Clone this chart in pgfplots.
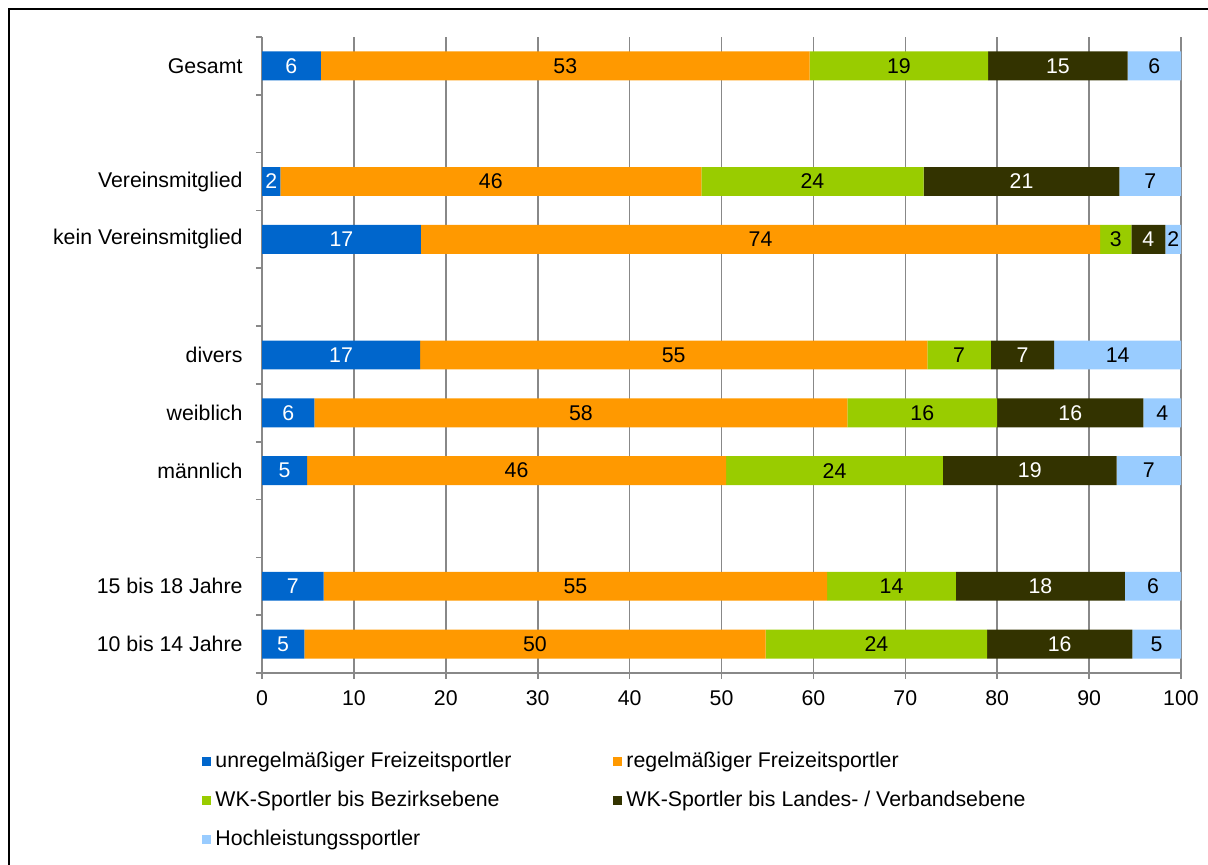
\documentclass[border=0pt]{standalone}
\usepackage{pgfplots}
\pgfplotsset{compat=1.18}
\usepackage{pgfplotstable}
\usepackage{fontspec}
\setmainfont{Liberation Sans}
\definecolor{cA}{HTML}{0066CC}
\definecolor{cB}{HTML}{FF9900}
\definecolor{cC}{HTML}{99CC00}
\definecolor{cD}{HTML}{333300}
\definecolor{cE}{HTML}{99CCFF}
\definecolor{gridgray}{HTML}{888888}
\pgfplotstableread{
pos a b c d e
10 6.4 53.2 19.4 15.2 5.8
8 2.0 45.8 24.2 21.3 6.7
7 17.3 73.9 3.4 3.7 1.7
5 17.2 55.2 6.9 6.9 13.8
4 5.7 58.0 16.3 15.9 4.1
3 4.9 45.6 23.6 18.9 7.0
1 6.7 54.8 14.0 18.4 6.1
0 4.6 50.2 24.1 15.8 5.3
}\datatable
\pgfplotsset{
  /pgf/number format/assume math mode=true,
  seg/.style n args={2}{fill=#1, draw=none,
    every node near coord/.append style={text=#2},
    legend image code/.code={\fill[fill=#1] (0pt,-2.25pt) rectangle (4.5pt,2.25pt);}},
}
\begin{document}
\fontsize{10.65pt}{12.8pt}\selectfont
\begin{tikzpicture}
\begin{axis}[
  at={(0,0)}, anchor=south west,
  scale only axis, width=459.5pt, height=318pt,
  xbar stacked, bar width=0.5,
  xmin=0, xmax=100, ymin=-0.5, ymax=10.5,
  axis x line*=bottom, axis y line*=left,
  axis line style={gridgray, line width=0.8pt, -},
  tick align=outside,
  tick style={gridgray, line width=0.8pt},
  major tick length=3pt,
  xtick={0,10,...,100},
  xmajorgrids, grid style={gridgray, line width=0.8pt},
  ytick={-0.5,0.5,...,10.5}, yticklabels={},
  extra y ticks={0,1,3,4,5,7,8,10},
  extra y tick labels={10 bis 14 Jahre,15 bis 18 Jahre,männlich,weiblich,divers,kein Vereinsmitglied,Vereinsmitglied,Gesamt},
  extra y tick style={major tick length=0pt, yticklabel style={xshift=-6pt}},
  xticklabel style={yshift=-2pt},
  point meta=explicit symbolic,
  nodes near coords={\pgfmathprintnumber[fixed,precision=0]{\pgfplotspointmeta}},
  every node near coord/.append style={anchor=center, font=\fontsize{10.65pt}{12.8pt}\selectfont},
  legend columns=2,
  legend cell align=left,
  legend style={at={(axis description cs:-0.0652,-0.1226)}, anchor=north west, draw=none, fill=none, inner sep=0pt,
    row sep=9pt,
    nodes={inner sep=0pt, text height=8pt, text depth=2.5pt}},
]
\addplot[seg={cA}{white}] table[x=a, y=pos, meta=a] {\datatable};
\addplot[seg={cB}{black}] table[x=b, y=pos, meta=b] {\datatable};
\addplot[seg={cC}{black}] table[x=c, y=pos, meta=c] {\datatable};
\addplot[seg={cD}{white}] table[x=d, y=pos, meta=d] {\datatable};
\addplot[seg={cE}{black}] table[x=e, y=pos, meta=e] {\datatable};
\addlegendentry{\hspace{2pt}\makebox[199pt][l]{unregelmäßiger Freizeitsportler}}
\addlegendentry{\hspace{2pt}\makebox[199pt][l]{regelmäßiger Freizeitsportler}}
\addlegendentry{\hspace{2pt}\makebox[199pt][l]{WK-Sportler bis Bezirksebene}}
\addlegendentry{\hspace{2pt}\makebox[199pt][l]{WK-Sportler bis Landes- / Verbandsebene}}
\addlegendentry{\hspace{2pt}\makebox[199pt][l]{Hochleistungssportler}}
\end{axis}
\draw[black, line width=1pt] (-126.25pt,-110pt) -- (-126.25pt,331.75pt) -- (490pt,331.75pt);
\pgfresetboundingbox
\useasboundingbox (-131pt,-96pt) rectangle (473pt,336.5pt);
\end{tikzpicture}
\end{document}
